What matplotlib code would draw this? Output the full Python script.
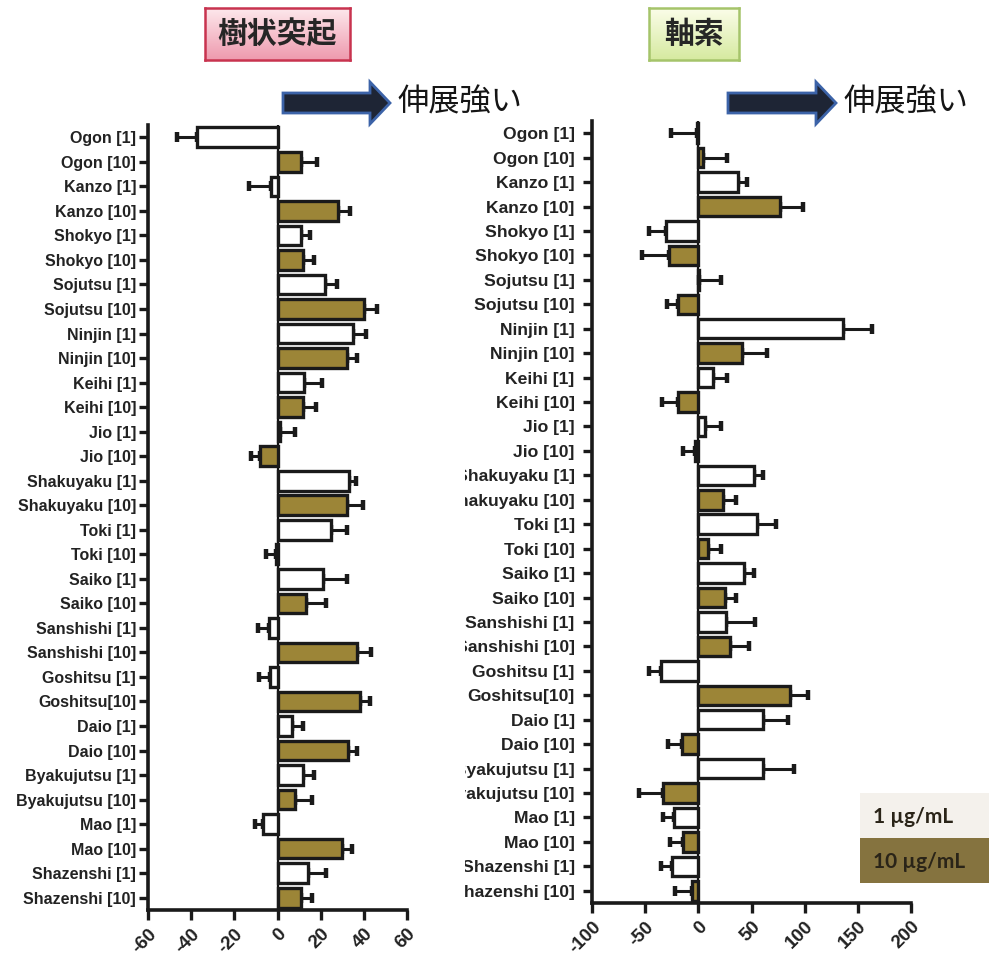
import numpy as np
import matplotlib
matplotlib.use('Agg')
import matplotlib.pyplot as plt
import matplotlib.patches as mpatches
from matplotlib.transforms import Bbox, TransformedBbox

# 生薬名 [濃度 µg/mL]
labels = ['Ogon [1]', 'Ogon [10]', 'Kanzo [1]', 'Kanzo [10]', 'Shokyo [1]', 'Shokyo [10]',
          'Sojutsu [1]', 'Sojutsu [10]', 'Ninjin [1]', 'Ninjin [10]', 'Keihi [1]', 'Keihi [10]',
          'Jio [1]', 'Jio [10]', 'Shakuyaku [1]', 'Shakuyaku [10]', 'Toki [1]', 'Toki [10]',
          'Saiko [1]', 'Saiko [10]', 'Sanshishi [1]', 'Sanshishi [10]', 'Goshitsu [1]', 'Goshitsu[10]',
          'Daio [1]', 'Daio [10]', 'Byakujutsu [1]', 'Byakujutsu [10]', 'Mao [1]', 'Mao [10]',
          'Shazenshi [1]', 'Shazenshi [10]']

# 樹状突起
dend = [-37.5, 11, -3, 28, 11, 12, 22, 40, 35, 32, 12.5, 12, 1, -8, 33, 32,
        25, -0.5, 21, 13, -4, 37, -3.7, 38, 6.5, 32.5, 12, 8, -6.5, 30, 14, 11]
dend_err = [9, 7.5, 10, 5.5, 4, 5, 5.5, 6, 6, 5, 8, 6, 7, 4.5, 3.5, 7.5,
            7, 5, 11, 9.5, 5, 6.5, 5, 5, 5.5, 4.5, 5, 8, 4, 4.5, 8.5, 5]

# 軸索
axon = [-1, 4, 37.5, 77, -30, -28, 1, -19, 136, 41.5, 14, -19, 6, -3, 52, 23,
        55, 9, 43, 25, 26, 30, -35, 86, 61, -15, 60.5, -33.5, -22.5, -14, -24.5, -5.5]
axon_err = [25, 23, 8.5, 21, 16, 25, 20, 10, 27, 23, 13, 15, 15, 11, 9, 12.5,
            18, 12, 9, 10.5, 27, 18, 11, 17, 23, 13.5, 29, 22, 11, 13, 10.5, 16]

dend_ticks = [-60, -40, -20, 0, 20, 40, 60]
axon_ticks = [-100, -50, 0, 50, 100, 150, 200]

brown = '#9c8537'
colors = ['white' if '[1]' in s else brown for s in labels]

W, H = 989, 956
fig = plt.figure(figsize=(W / 100, H / 100), dpi=100)


def fx(px):
    return px / W


def fy(py):
    return 1 - py / H


def bar_panel(ax, vals, errs, ticks, lsize, lpad):
    y = np.arange(len(labels))
    vals = np.array(vals)
    errs = np.array(errs)
    lo = np.where(vals < 0, errs, 0)
    hi = np.where(vals >= 0, errs, 0)
    ax.axvline(0, color='#111111', lw=1.6, zorder=1)
    ax.errorbar(vals, y, xerr=[lo, hi], fmt='none', ecolor='#1a1a1a',
                elinewidth=2.2, capsize=3.5, capthick=3.2, zorder=2)
    ax.barh(y, vals, height=0.8, color=colors, edgecolor='#1a1a1a',
            linewidth=2.4, zorder=3)
    ax.set_ylim(len(labels) - 0.5, -0.5)
    ax.set_xlim(ticks[0], ticks[-1])
    ax.set_yticks(y)
    ax.set_yticklabels(labels, fontsize=lsize, fontweight='bold',
                       family='Liberation Sans', color='#222222')
    ax.set_xticks(ticks)
    ax.set_xticklabels([str(t) for t in ticks], rotation=45, ha='right',
                       rotation_mode='anchor', fontsize=13.5, fontweight='bold',
                       family='Liberation Sans', color='#222222')
    for s in ['top', 'right']:
        ax.spines[s].set_visible(False)
    for s in ['left', 'bottom']:
        ax.spines[s].set_linewidth(2.6)
        ax.spines[s].set_color('#1a1a1a')
    ax.tick_params(axis='both', length=6.5, width=2.4, color='#1a1a1a')
    ax.tick_params(axis='y', pad=lpad)
    ax.tick_params(axis='x', length=7, pad=4)


ax1 = fig.add_axes([fx(148), fy(910), fx(407 - 148), fy(125) - fy(910)])
bar_panel(ax1, dend, dend_err, dend_ticks, 11.5, 2)

ax2 = fig.add_axes([fx(592), fy(903), fx(911 - 592), fy(121) - fy(903)])
bar_panel(ax2, axon, axon_err, axon_ticks, 12.6, 6)

# 右パネルのラベル左端を切る
clip = TransformedBbox(Bbox([[fx(465), 0], [1, 1]]), fig.transFigure)
for t in ax2.get_yticklabels():
    t.set_clip_box(clip)
    t.set_clip_on(True)


# タイトルボックス（グラデーション）
def title_box(x0, x1, y0, y1, top, bottom, edge, text):
    bax = fig.add_axes([fx(x0), fy(y1), fx(x1 - x0), fy(y0) - fy(y1)])
    c0 = np.array(matplotlib.colors.to_rgb(top))
    c1 = np.array(matplotlib.colors.to_rgb(bottom))
    t = np.linspace(0, 1, 64)[:, None, None]
    grad = c0 * (1 - t) + c1 * t
    bax.imshow(grad, aspect='auto', extent=[0, 1, 0, 1])
    bax.set_xticks([])
    bax.set_yticks([])
    for s in bax.spines.values():
        s.set_color(edge)
        s.set_linewidth(1.8)
    bax.text(0.5, 0.5, text, ha='center', va='center', fontsize=21.5,
             family='Noto Sans CJK JP', fontweight='bold', color='#262626')


title_box(205, 350, 8, 60, '#fde8ec', '#ee9aae', '#c8334f', '樹状突起')
title_box(649, 739, 8, 60, '#fbfde9', '#d6eaa0', '#a5c46a', '軸索')

# 伸展方向の矢印
for x0, x1 in [(283, 390), (728, 836)]:
    arr = mpatches.FancyArrow(fx(x0), fy(103), fx(x1 - x0), 0,
                              width=20 / H, head_width=42 / H,
                              head_length=fx(20), length_includes_head=True,
                              transform=fig.transFigure, facecolor='#1e2535',
                              edgecolor='#3c63a8', linewidth=2)
    fig.patches.append(arr)
    fig.text(fx(x1 + 8), fy(102), '伸展強い', ha='left', va='center',
             fontsize=22.5, family='Noto Sans CJK JP', color='#151515')

# 凡例
fig.patches.append(mpatches.Rectangle((fx(860), fy(838)), fx(129), 45 / H,
                                      transform=fig.transFigure,
                                      facecolor='#f4f1ec', edgecolor='none'))
fig.patches.append(mpatches.Rectangle((fx(860), fy(883)), fx(129), 45 / H,
                                      transform=fig.transFigure,
                                      facecolor='#85733f', edgecolor='none'))
fig.text(fx(873), fy(817), '1 \u00b5g/mL', ha='left', va='center', fontsize=15,
         family='Lato', fontweight='bold', color='#2a2418')
fig.text(fx(873), fy(862), '10 \u00b5g/mL', ha='left', va='center', fontsize=15,
         family='Lato', fontweight='bold', color='#2a2418')

fig.savefig('out.png', dpi=100)
